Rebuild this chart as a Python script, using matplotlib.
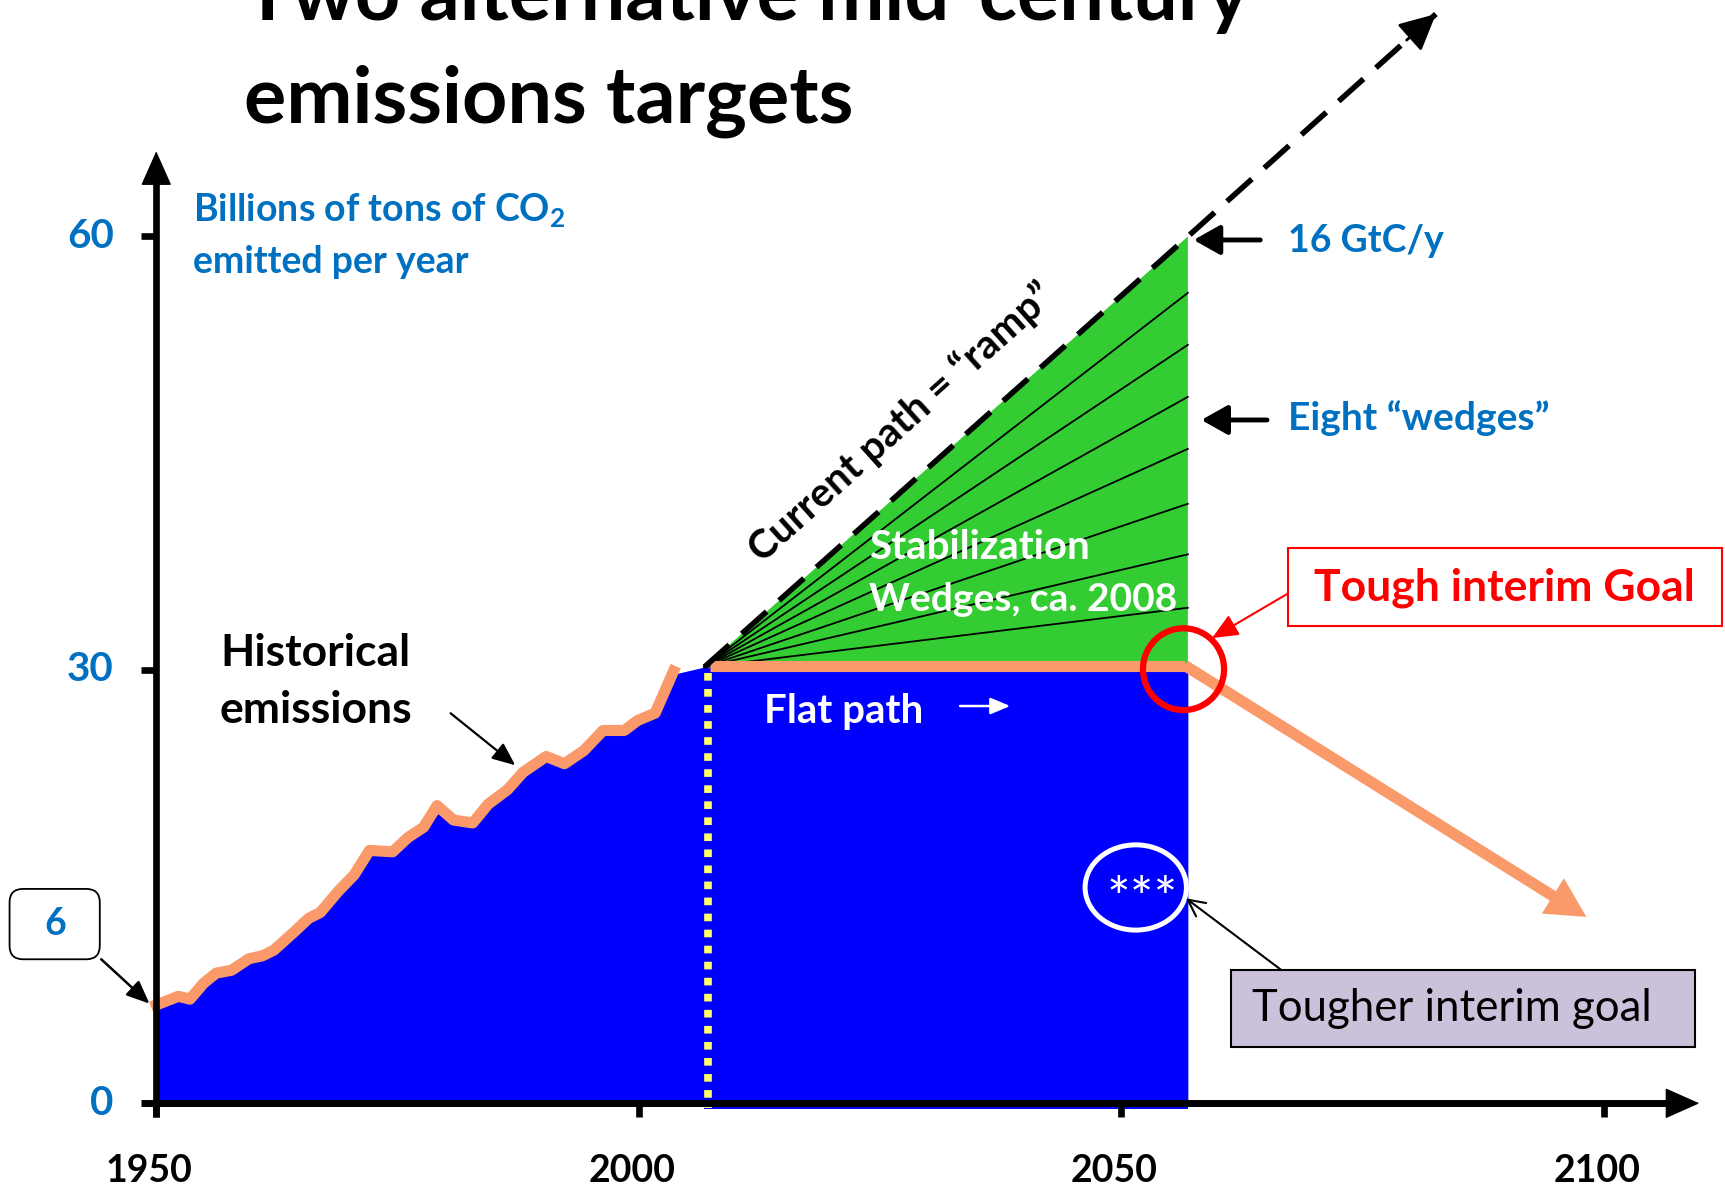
import numpy as np
import matplotlib
matplotlib.use('Agg')
import matplotlib.pyplot as plt
import matplotlib.transforms as mtransforms
from matplotlib.patches import Ellipse, Rectangle, FancyBboxPatch

plt.rcParams['font.family'] = ['Lato', 'DejaVu Sans']
plt.rcParams['mathtext.fontset'] = 'custom'
plt.rcParams['mathtext.bf'] = 'Lato:bold'
plt.rcParams['mathtext.rm'] = 'Lato:bold'

BLUE_TXT = '#0070C0'
ORANGE = '#FA9A6A'
FILL_BLUE = '#0000FF'
GREEN = '#33CC33'

# historical emissions, billions of tons CO2 per year
hist_years = [1950.0, 1952.3, 1953.5, 1954.9, 1956.2, 1957.8, 1959.6, 1961.0, 1962.2,
              1964.2, 1965.8, 1967.0, 1968.9, 1970.5, 1972.1, 1974.5, 1976.1, 1977.7,
              1979.1, 1980.8, 1982.8, 1984.4, 1986.4, 1988.0, 1990.4, 1992.3, 1994.3,
              1996.3, 1998.5, 1999.9, 2001.7, 2003.6]
hist_vals = [6.6, 7.2, 7.0, 8.1, 8.8, 9.0, 9.8, 10.0, 10.4,
             11.6, 12.6, 13.0, 14.5, 15.6, 17.3, 17.2, 18.2, 18.9,
             20.4, 19.4, 19.2, 20.5, 21.5, 22.7, 23.8, 23.3, 24.2,
             25.6, 25.6, 26.3, 26.8, 29.7]

# "ramp" (business as usual) and flat path
ramp_years = [2006.8, 2056.9, 2082.6]
ramp_vals = [30.2, 60.0, 75.4]
flat_years = [2007.4, 2056.6]
flat_vals = [30.3, 30.3]
decline_years = [2056.6, 2098.2]
decline_vals = [30.3, 12.9]
goal_year = 2056.9
now_year = 2007.2
wedge_ends = [34.3, 38.0, 41.5, 45.3, 48.9, 52.5, 56.1]

xtick_years = [1950, 2000, 2050, 2100]
ytick_vals = [0, 30, 60]

fig = plt.figure(figsize=(17.25, 11.91), dpi=100)
ax = fig.add_axes([0, 0, 1, 1])
ax.set_xlim(1933.81, 2112.56)
ax.set_ylim(-6.07, 76.37)
ax.axis('off')

# blue area: history + flat path
bx = hist_years + [ramp_years[0], goal_year]
by = hist_vals + [ramp_vals[0], ramp_vals[0] - 0.2]
ax.fill_between(bx, by, 0, color=FILL_BLUE, lw=0, zorder=1)
ax.fill_between([ramp_years[0], goal_year], [30, 30], -0.4, color=FILL_BLUE, lw=0, zorder=1)

# green stabilization triangle with wedge lines
ax.fill([ramp_years[0], ramp_years[1], goal_year], [ramp_vals[0], ramp_vals[1], flat_vals[0]],
        color=GREEN, lw=0, zorder=1)
for v in wedge_ends:
    ax.plot([ramp_years[0], goal_year], [ramp_vals[0], v], color='k', lw=1.3, zorder=2)

# orange history line, sitting just on top of the blue
up = mtransforms.offset_copy(ax.transData, fig=fig, x=0, y=3, units='dots')
ax.plot(hist_years, hist_vals, color=ORANGE, lw=8, solid_joinstyle='round', transform=up, zorder=3)
ax.plot(flat_years, flat_vals, color=ORANGE, lw=8, solid_capstyle='butt', zorder=3)
ax.annotate('', xy=(decline_years[1], decline_vals[1]), xytext=(decline_years[0], decline_vals[0]),
            arrowprops=dict(arrowstyle='simple,head_length=0.95,head_width=1.0,tail_width=0.27',
                            fc=ORANGE, ec='none', mutation_scale=30, shrinkA=0, shrinkB=0), zorder=3)

# yellow "today" marker
ax.plot([now_year, now_year], [flat_vals[0] - 0.5, -0.3], color='#FFFF66', lw=5.5,
        linestyle=(0, (1, 1.1)), dash_capstyle='butt', zorder=3)

# dashed ramp
ax.plot(ramp_years, ramp_vals, color='k', lw=4, dashes=(6, 3), zorder=4)
tip = np.array([ramp_years[-1], ramp_vals[-1]])
back = tip - 0.04 * (tip - np.array([ramp_years[0], ramp_vals[0]]))
ax.annotate('', xy=tip, xytext=back,
            arrowprops=dict(arrowstyle='-|>,head_length=0.9,head_width=0.45', lw=2, color='k',
                            mutation_scale=25, shrinkA=0, shrinkB=0), zorder=4)

# axes
ax.plot([1950, 1950], [-0.95, 64], color='k', lw=4.8, solid_capstyle='butt', zorder=5)
ax.annotate('', xy=(1950, 65.9), xytext=(1950, 63.5),
            arrowprops=dict(arrowstyle='-|>,head_length=0.9,head_width=0.4', lw=1, color='k',
                            mutation_scale=25, shrinkA=0, shrinkB=0), zorder=5)
ax.plot([1948.4, 2108.0], [0, 0], color='k', lw=5, solid_capstyle='butt', zorder=5)
ax.annotate('', xy=(2109.9, 0), xytext=(2107.0, 0),
            arrowprops=dict(arrowstyle='-|>,head_length=0.9,head_width=0.4', lw=1, color='k',
                            mutation_scale=25, shrinkA=0, shrinkB=0), zorder=5)
for v in ytick_vals[1:]:
    ax.plot([1948.4, 1950], [v, v], color='k', lw=4.8, solid_capstyle='butt', zorder=5)
for yr in xtick_years:
    ax.plot([yr, yr], [0, -0.95], color='k', lw=4.8, solid_capstyle='butt', zorder=5)
for v in ytick_vals:
    ax.text(1945.6, v, str(v), color=BLUE_TXT, fontsize=29, fontweight='bold', ha='right', va='center')
for yr in xtick_years:
    ax.text(yr - 0.7, -4.7, str(yr), color='k', fontsize=27, fontweight='bold', ha='center', va='center')

# title
ax.text(1959.1, 75.0, 'Two alternative mid-century', fontsize=57, fontweight='bold', va='baseline')
ax.text(1959.1, 67.9, 'emissions targets', fontsize=57, fontweight='bold', va='baseline')

ax.text(1953.8, 61.75, r'Billions of tons of CO$_\mathbf{2}$', color=BLUE_TXT, fontsize=27,
        fontweight='bold', va='center')
ax.text(1953.8, 58.25, 'emitted per year', color=BLUE_TXT, fontsize=27, fontweight='bold', va='center')

# "6" callout
box6 = FancyBboxPatch((1934.8, 9.97), 9.35, 4.87, boxstyle='round,pad=0,rounding_size=1.4',
                      mutation_aspect=0.668, fc='white', ec='k', lw=1.3, zorder=5)
ax.add_patch(box6)
ax.text(1939.5, 12.4, '6', color=BLUE_TXT, fontsize=27, fontweight='bold', ha='center', va='center', zorder=6)
ax.annotate('', xy=(1949.3, 6.9), xytext=(1944.3, 9.97),
            arrowprops=dict(arrowstyle='-|>,head_length=0.7,head_width=0.3', lw=1.8, color='k',
                            mutation_scale=20, shrinkA=0, shrinkB=0))

ax.text(1956.6, 31.2, 'Historical', fontsize=32, fontweight='bold', va='center')
ax.text(1956.6, 27.2, 'emissions', fontsize=32, fontweight='bold', va='center')
ax.annotate('', xy=(1987.2, 23.4), xytext=(1980.5, 27.0),
            arrowprops=dict(arrowstyle='-|>,head_length=0.7,head_width=0.3', lw=1.6, color='k',
                            mutation_scale=20, shrinkA=0, shrinkB=0))

ax.text(2027.2, 47.1, 'Current path = \u201cramp\u201d', fontsize=29, fontweight='bold', rotation=41.9,
        rotation_mode='anchor', ha='center', va='center', zorder=6)
ax.text(2023.9, 38.45, 'Stabilization', color='white', fontsize=29, fontweight='bold', va='center', zorder=6)
ax.text(2023.9, 34.9, 'Wedges, ca. 2008', color='white', fontsize=28, fontweight='bold', va='center', zorder=6)
ax.text(2013.0, 27.1, 'Flat path', color='white', fontsize=29, fontweight='bold', va='center', zorder=6)
ax.annotate('', xy=(2038.5, 27.5), xytext=(2033.3, 27.5),
            arrowprops=dict(arrowstyle='-|>,head_length=0.6,head_width=0.25', lw=1.8, color='white',
                            mutation_scale=20, shrinkA=0, shrinkB=0), zorder=6)

# right-hand labels
ax.text(2067.3, 59.7, '16 GtC/y', color=BLUE_TXT, fontsize=27, fontweight='bold', va='center')
ax.annotate('', xy=(2057.5, 59.76), xytext=(2064.4, 59.76),
            arrowprops=dict(arrowstyle='-|>,head_length=0.8,head_width=0.45', lw=3.5, color='k',
                            mutation_scale=20, shrinkA=0, shrinkB=0))
ax.text(2067.3, 47.44, 'Eight \u201cwedges\u201d', color=BLUE_TXT, fontsize=28, fontweight='bold', va='center')
ax.annotate('', xy=(2058.3, 47.3), xytext=(2065.1, 47.3),
            arrowprops=dict(arrowstyle='-|>,head_length=0.8,head_width=0.45', lw=3.5, color='k',
                            mutation_scale=20, shrinkA=0, shrinkB=0))

# tough interim goal
ax.add_patch(Rectangle((2067.3, 33.05), 44.9, 5.36, fc='white', ec='#FF0000', lw=1.5, zorder=5))
ax.text(2089.7, 35.7, 'Tough interim Goal', color='#FF0000', fontsize=32, fontweight='bold',
        ha='center', va='center', zorder=6)
ax.annotate('', xy=(2059.4, 32.2), xytext=(2067.3, 35.3),
            arrowprops=dict(arrowstyle='-|>,head_length=0.8,head_width=0.35', lw=1.5, color='#FF0000',
                            mutation_scale=20, shrinkA=0, shrinkB=0), zorder=6)
ax.add_patch(Ellipse((2056.45, 30.05), 8.4, 5.66, fc='none', ec='#FF0000', lw=4.5, zorder=6))

# tougher interim goal
ax.add_patch(Ellipse((2051.5, 14.94), 10.5, 5.9, fc='none', ec='white', lw=3.6, zorder=6))
ax.text(2052.2, 14.0, '***', color='white', fontsize=40, ha='center', va='center', zorder=6)
ax.add_patch(Rectangle((2061.4, 3.88), 48.1, 5.35, fc='#CCC1DA', ec='k', lw=1.5, zorder=5))
ax.text(2063.5, 6.57, 'Tougher interim goal', color='k', fontsize=31.5, va='center', zorder=6)
ax.annotate('', xy=(2056.7, 14.19), xytext=(2066.5, 9.27),
            arrowprops=dict(arrowstyle='->,head_length=0.6,head_width=0.3', lw=1.5, color='k',
                            mutation_scale=20, shrinkA=0, shrinkB=0), zorder=6)

fig.savefig('out.png', dpi=100)
